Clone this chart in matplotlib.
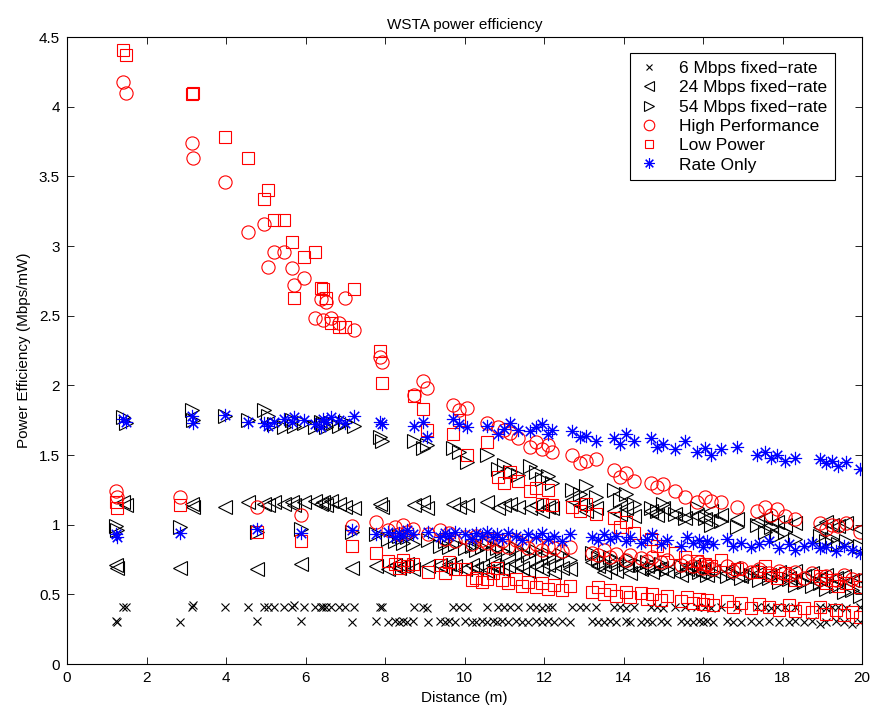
import numpy as np
import matplotlib
matplotlib.use("Agg")
import matplotlib.pyplot as plt
from matplotlib.ticker import FuncFormatter

plt.rcParams['font.family'] = ['Liberation Sans', 'DejaVu Sans']

# distances of the first set of stations (upper levels)
dist_a = [1.42, 1.48, 3.15, 3.17, 3.98, 4.55, 4.95, 5.05, 5.20, 5.45,
          5.65, 5.70, 5.95, 6.25, 6.38, 6.45, 6.52, 6.65, 6.85, 7.00,
          7.22, 7.88, 7.93, 8.72, 8.95, 9.05, 9.70, 9.85, 10.05, 10.57,
          10.85, 11.00, 11.15, 11.35, 11.65, 11.80, 11.95, 12.10, 12.20, 12.70,
          12.90, 13.05, 13.30, 13.75, 13.90, 14.05, 14.25, 14.70, 14.85, 15.00,
          15.30, 15.55, 15.85, 16.05, 16.20, 16.45, 16.85, 17.35, 17.55, 17.70,
          17.85, 18.05, 18.30, 18.95, 19.10, 19.25, 19.40, 19.60, 19.95]

# distances of the second set (lower levels)
dist_b = [1.22, 1.27, 2.84, 4.77, 5.88, 7.17, 7.77, 8.08, 8.25, 8.35,
          8.45, 8.55, 8.70, 9.08, 9.38, 9.50, 9.62, 9.76, 10.01, 10.19,
          10.30, 10.44, 10.57, 10.72, 10.82, 10.95, 11.10, 11.30, 11.45, 11.60,
          11.80, 11.95, 12.10, 12.25, 12.45, 12.65, 13.20, 13.35, 13.50, 13.65,
          13.80, 14.05, 14.15, 14.45, 14.60, 14.72, 14.95, 15.10, 15.45, 15.60,
          15.75, 15.90, 16.00, 16.10, 16.25, 16.60, 16.75, 16.95, 17.20, 17.40,
          17.65, 17.90, 18.15, 18.30, 18.55, 18.75, 18.95, 19.10, 19.35, 19.55,
          19.75, 19.95]

mb6_a = [0.41, 0.41, 0.41, 0.42, 0.41, 0.41, 0.41, 0.41, 0.41, 0.41,
         0.41, 0.42, 0.41, 0.41, 0.41, 0.41, 0.41, 0.41, 0.41, 0.41,
         0.41, 0.41, 0.41, 0.41, 0.41, 0.40, 0.41, 0.41, 0.41, 0.41,
         0.41, 0.41, 0.41, 0.41, 0.41, 0.41, 0.40, 0.41, 0.41, 0.41,
         0.41, 0.41, 0.41, 0.41, 0.41, 0.40, 0.41, 0.41, 0.41, 0.40,
         0.41, 0.41, 0.41, 0.41, 0.40, 0.41, 0.41, 0.41, 0.41, 0.40,
         0.41, 0.41, 0.41, 0.41, 0.40, 0.41, 0.41, 0.40, 0.41]
mb24_a = [1.16, 1.14, 1.15, 1.13, 1.13, 1.16, 1.15, 1.14, 1.16, 1.15,
          1.16, 1.14, 1.16, 1.17, 1.15, 1.16, 1.14, 1.17, 1.15, 1.13,
          1.12, 1.15, 1.13, 1.14, 1.16, 1.12, 1.15, 1.13, 1.14, 1.16,
          1.12, 1.14, 1.15, 1.13, 1.12, 1.14, 1.10, 1.13, 1.12, 1.18,
          1.14, 1.10, 1.12, 1.10, 1.08, 1.12, 1.06, 1.10, 1.07, 1.12,
          1.08, 1.05, 1.06, 1.04, 1.10, 1.07, 1.04, 1.03, 1.05, 1.00,
          1.02, 1.00, 1.01, 0.98, 1.02, 1.00, 0.99, 1.01, 0.97]
mb54_a = [1.77, 1.73, 1.82, 1.75, 1.78, 1.75, 1.82, 1.78, 1.72, 1.70,
          1.75, 1.71, 1.73, 1.70, 1.74, 1.72, 1.70, 1.73, 1.71, 1.74,
          1.71, 1.63, 1.60, 1.60, 1.55, 1.57, 1.55, 1.52, 1.45, 1.50,
          1.40, 1.43, 1.38, 1.36, 1.42, 1.38, 1.33, 1.35, 1.30, 1.25,
          1.22, 1.28, 1.20, 1.25, 1.18, 1.22, 1.15, 1.12, 1.10, 1.15,
          1.08, 1.05, 1.12, 1.05, 1.00, 1.03, 0.98, 1.00, 0.95, 0.98,
          0.92, 0.95, 0.90, 0.92, 0.88, 0.90, 0.86, 0.88, 0.85]
hp_a = [4.18, 4.10, 3.74, 3.63, 3.46, 3.10, 3.16, 2.85, 2.96, 2.96,
        2.84, 2.72, 2.77, 2.48, 2.62, 2.47, 2.60, 2.48, 2.45, 2.63,
        2.40, 2.20, 2.17, 1.93, 2.03, 1.98, 1.86, 1.82, 1.84, 1.73,
        1.70, 1.68, 1.66, 1.62, 1.56, 1.59, 1.54, 1.57, 1.52, 1.50,
        1.44, 1.46, 1.47, 1.39, 1.34, 1.37, 1.31, 1.30, 1.27, 1.29,
        1.24, 1.20, 1.16, 1.20, 1.17, 1.16, 1.13, 1.10, 1.13, 1.07,
        1.11, 1.06, 1.04, 1.01, 0.97, 1.00, 0.99, 1.01, 0.95]
lp_a = [4.41, 4.37, 4.09, 4.10, 3.78, 3.63, 3.34, 3.40, 3.19, 3.19,
        3.03, 2.63, 2.92, 2.96, 2.70, 2.69, 2.63, 2.45, 2.42, 2.42,
        2.69, 2.25, 2.02, 1.92, 1.83, 1.68, 1.65, 1.75, 1.50, 1.59,
        1.34, 1.30, 1.38, 1.31, 1.24, 1.26, 1.15, 1.25, 1.14, 1.13,
        1.10, 1.15, 1.08, 1.05, 0.98, 1.02, 0.94, 0.90, 0.85, 0.82,
        0.80, 0.77, 0.74, 0.72, 0.70, 0.75, 0.68, 0.66, 0.70, 0.64,
        0.62, 0.65, 0.60, 0.63, 0.58, 0.60, 0.56, 0.58, 0.55]
ro_a = [1.76, 1.74, 1.78, 1.73, 1.79, 1.74, 1.73, 1.71, 1.74, 1.76,
        1.74, 1.77, 1.75, 1.72, 1.70, 1.76, 1.74, 1.77, 1.75, 1.73,
        1.78, 1.74, 1.72, 1.71, 1.74, 1.63, 1.76, 1.72, 1.70, 1.71,
        1.65, 1.69, 1.73, 1.68, 1.67, 1.70, 1.72, 1.65, 1.68, 1.67,
        1.63, 1.64, 1.60, 1.62, 1.58, 1.65, 1.60, 1.62, 1.56, 1.58,
        1.54, 1.60, 1.52, 1.55, 1.50, 1.54, 1.56, 1.50, 1.52, 1.48,
        1.50, 1.46, 1.48, 1.47, 1.44, 1.46, 1.42, 1.45, 1.40]

mb6_b = [0.31, 0.30, 0.30, 0.31, 0.31, 0.30, 0.31, 0.30, 0.31, 0.30,
         0.31, 0.30, 0.31, 0.30, 0.31, 0.30, 0.31, 0.30, 0.31, 0.30,
         0.30, 0.31, 0.30, 0.31, 0.30, 0.31, 0.30, 0.31, 0.30, 0.30,
         0.31, 0.30, 0.31, 0.30, 0.31, 0.30, 0.31, 0.30, 0.30, 0.31,
         0.30, 0.31, 0.30, 0.30, 0.31, 0.30, 0.31, 0.30, 0.31, 0.30,
         0.30, 0.31, 0.30, 0.31, 0.30, 0.31, 0.30, 0.30, 0.31, 0.30,
         0.31, 0.30, 0.30, 0.31, 0.30, 0.31, 0.29, 0.30, 0.31, 0.30,
         0.29, 0.30]
mb24_b = [0.71, 0.69, 0.69, 0.68, 0.72, 0.69, 0.70, 0.68, 0.71, 0.69,
          0.70, 0.72, 0.68, 0.70, 0.71, 0.69, 0.72, 0.70, 0.68, 0.71,
          0.69, 0.70, 0.67, 0.71, 0.69, 0.68, 0.70, 0.72, 0.69, 0.67,
          0.70, 0.68, 0.71, 0.66, 0.69, 0.68, 0.73, 0.70, 0.66, 0.69,
          0.67, 0.71, 0.65, 0.68, 0.70, 0.66, 0.69, 0.67, 0.64, 0.68,
          0.70, 0.66, 0.68, 0.64, 0.67, 0.65, 0.69, 0.63, 0.67, 0.65,
          0.64, 0.66, 0.62, 0.67, 0.63, 0.65, 0.61, 0.64, 0.62, 0.63,
          0.60, 0.62]
mb54_b = [0.99, 0.96, 0.98, 0.95, 0.97, 0.95, 0.93, 0.90, 0.88, 0.92,
          0.87, 0.91, 0.86, 0.89, 0.85, 0.88, 0.84, 0.86, 0.83, 0.85,
          0.82, 0.84, 0.86, 0.80, 0.83, 0.81, 0.79, 0.83, 0.80, 0.78,
          0.81, 0.77, 0.79, 0.76, 0.78, 0.75, 0.80, 0.76, 0.73, 0.77,
          0.74, 0.72, 0.75, 0.71, 0.73, 0.69, 0.72, 0.68, 0.70, 0.67,
          0.69, 0.66, 0.68, 0.64, 0.66, 0.63, 0.65, 0.62, 0.64, 0.60,
          0.62, 0.59, 0.61, 0.57, 0.59, 0.56, 0.58, 0.54, 0.56, 0.52,
          0.53, 0.49]
hp_b = [1.24, 1.20, 1.20, 1.13, 1.07, 0.99, 1.02, 0.96, 0.98, 0.93,
        1.00, 0.95, 0.97, 0.93, 0.96, 0.90, 0.94, 0.88, 0.91, 0.86,
        0.92, 0.89, 0.87, 0.90, 0.85, 0.88, 0.84, 0.89, 0.86, 0.83,
        0.86, 0.82, 0.85, 0.83, 0.81, 0.84, 0.80, 0.78, 0.82, 0.77,
        0.79, 0.75, 0.78, 0.76, 0.74, 0.77, 0.73, 0.75, 0.71, 0.74,
        0.70, 0.73, 0.69, 0.71, 0.68, 0.70, 0.67, 0.69, 0.66, 0.68,
        0.65, 0.67, 0.64, 0.66, 0.62, 0.65, 0.61, 0.63, 0.60, 0.64,
        0.61, 0.60]
lp_b = [1.16, 1.12, 1.14, 0.95, 0.88, 0.85, 0.80, 0.74, 0.72, 0.69,
        0.75, 0.70, 0.72, 0.66, 0.71, 0.65, 0.73, 0.68, 0.68, 0.60,
        0.62, 0.59, 0.61, 0.65, 0.69, 0.60, 0.58, 0.61, 0.56, 0.59,
        0.55, 0.58, 0.54, 0.57, 0.53, 0.56, 0.52, 0.55, 0.50, 0.53,
        0.49, 0.52, 0.48, 0.51, 0.47, 0.50, 0.46, 0.49, 0.45, 0.48,
        0.44, 0.47, 0.43, 0.46, 0.42, 0.45, 0.41, 0.44, 0.40, 0.43,
        0.41, 0.39, 0.42, 0.38, 0.40, 0.37, 0.41, 0.36, 0.39, 0.35,
        0.37, 0.34]
ro_b = [0.93, 0.91, 0.94, 0.97, 0.94, 0.96, 0.93, 0.95, 0.91, 0.94,
        0.92, 0.96, 0.93, 0.95, 0.91, 0.94, 0.92, 0.95, 0.93, 0.90,
        0.94, 0.92, 0.95, 0.91, 0.93, 0.90, 0.94, 0.92, 0.89, 0.93,
        0.91, 0.94, 0.90, 0.92, 0.88, 0.93, 0.91, 0.89, 0.93, 0.90,
        0.92, 0.88, 0.91, 0.87, 0.90, 0.93, 0.86, 0.89, 0.85, 0.91,
        0.87, 0.89, 0.84, 0.88, 0.86, 0.90, 0.85, 0.87, 0.84, 0.86,
        0.88, 0.83, 0.86, 0.82, 0.85, 0.87, 0.83, 0.84, 0.81, 0.85,
        0.82, 0.80]

labels = ['6 Mbps fixed\u2212rate', '24 Mbps fixed\u2212rate', '54 Mbps fixed\u2212rate',
          'High Performance', 'Low Power', 'Rate Only']

x_all = dist_a + dist_b
series = [
    (mb6_a + mb6_b, 'x', 'k', 6),
    (mb24_a + mb24_b, '<', 'k', 9.5),
    (mb54_a + mb54_b, '>', 'k', 9.5),
    (hp_a + hp_b, 'o', 'r', 9.5),
    (lp_a + lp_b, 's', 'r', 8),
    (ro_a + ro_b, (8, 2, 0), 'b', 9.5),
]

fig = plt.figure(figsize=(8.77, 7.13), dpi=100)
ax = fig.add_axes([0.0764, 0.0687, 0.9066, 0.8794])

for (y, m, c, ms), lab in zip(series, labels):
    ax.plot(x_all, y, linestyle='none', marker=m, markersize=ms,
            markerfacecolor='none', markeredgecolor=c, markeredgewidth=0.8,
            label=lab)

ax.set_xlim(0, 20)
ax.set_ylim(0, 4.5)
ax.set_xticks(np.arange(0, 21, 2))
ax.set_yticks(np.arange(0, 4.51, 0.5))
ax.yaxis.set_major_formatter(FuncFormatter(lambda v, p: '%g' % v))
ax.tick_params(direction='in', top=True, right=True, length=5, labelsize=11,
               width=0.6, pad=5)
for s in ax.spines.values():
    s.set_linewidth(0.8)

ax.set_title('WSTA power efficiency', fontsize=11)
ax.set_xlabel('Distance (m)', fontsize=11, labelpad=4)
ax.set_ylabel('Power Efficiency (Mbps/mW)', fontsize=11, labelpad=6)

leg = ax.legend(loc='upper right', bbox_to_anchor=(0.966, 0.9745), fontsize=12.5,
                fancybox=False, framealpha=1, edgecolor='k', handlelength=1.4,
                labelspacing=0.24, borderpad=0.45, handletextpad=1.0,
                borderaxespad=0, markerscale=0.8)
leg.get_frame().set_linewidth(0.8)

fig.savefig('out.png', dpi=100)
